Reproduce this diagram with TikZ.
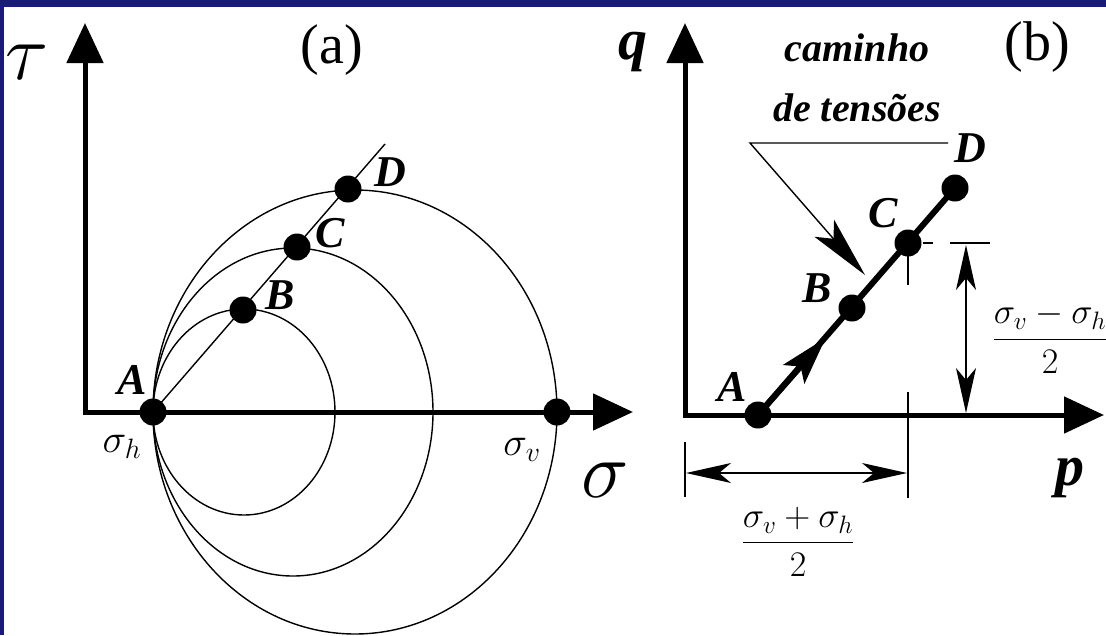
\RequirePackage{fix-cm}
\documentclass[tikz,border=0pt]{standalone}
\usepackage{amsmath}
\usepackage{fontspec}
\setmainfont{Liberation Serif}
\usepackage{tikz}
\usetikzlibrary{arrows.meta,calc}
\definecolor{frameblue}{RGB}{26,26,120}

\begin{document}
\begin{tikzpicture}[x=1pt, y=-1pt,
    axis/.style={line width=5pt, line join=miter, {Triangle[length=40pt,width=36pt]}-{Triangle[length=40pt,width=36pt]}},
    dot/.style={circle, fill=black, inner sep=0pt, minimum size=27pt},
    thinline/.style={line width=1.4pt},
    spath/.style={line width=6pt},
    dimline/.style={line width=1.6pt},
    dimarrow/.style={{Stealth[length=45pt,width=20pt,inset=12pt]}-{Stealth[length=45pt,width=20pt,inset=12pt]}},
    lab/.style={font=\fontsize{44}{44}\selectfont\rmfamily\bfseries\itshape, inner sep=0pt},
    axlab/.style={font=\fontsize{58}{58}\selectfont\rmfamily\bfseries\itshape, inner sep=0pt},
    greek/.style={font=\fontsize{80}{80}\selectfont, inner sep=0pt},
    sub/.style={font=\fontsize{40}{40}\selectfont, inner sep=0pt},
    frac/.style={font=\fontsize{36}{36}\selectfont, inner sep=0pt},
    panel/.style={font=\fontsize{56}{56}\selectfont\rmfamily, inner sep=0pt}]

    \useasboundingbox (0,0) rectangle (1106,635);

    % frame
    \fill[frameblue] (0,0) rectangle (1106,635);
    \fill[white] (4,7) rectangle (1106,635);

    % (a) Mohr circles
    \coordinate (oa) at (85,412);
    \coordinate (tauTop) at (85,23);
    \coordinate (sigEnd) at (633,412);
    \draw[axis] (tauTop) -- (oa) -- (sigEnd);

    \node[dot] (mA) at (153,412) {};
    \node[dot] (mB) at (243,310) {};
    \node[dot] (mC) at (297,247) {};
    \node[dot] (mD) at (348,189) {};
    \node[dot] (mV) at (557,412) {};

    \coordinate (mEnd) at (385,144);
    \draw[thinline] (mA.center) -- (mEnd);
    \draw[thinline] (244,412) ellipse [x radius=91pt, y radius=103pt];
    \draw[thinline] (293,412) ellipse [x radius=140pt, y radius=164pt];
    \draw[thinline] (355,412) ellipse [x radius=202pt, y radius=222pt];

    \node[lab] (labmA) at (132,380) {A};
    \node[lab] (labmB) at (280,295) {B};
    \node[lab] (labmC) at (330,233) {C};
    \node[lab] (labmD) at (390,172) {D};
    \node[sub] (sh) at (122,447) {$\sigma_h$};
    \node[sub] (sv) at (522,450) {$\sigma_v$};
    \node[greek] (tau) at (27,62) {$\tau$};
    \node[greek] (sig) at (605,480) {$\sigma$};
    \node[panel] (pa) at (332,50) {(a)};

    % (b) stress path
    \coordinate (ob) at (685,415);
    \coordinate (qTop) at (685,23);
    \coordinate (pEnd) at (1104,415);
    \draw[axis] (qTop) -- (ob) -- (pEnd);

    \node[dot] (sA) at (758,415) {};
    \node[dot] (sB) at (852,308) {};
    \node[dot] (sC) at (908,243) {};
    \node[dot] (sD) at (955,188) {};
    \draw[spath] (sA.center) -- (sD.center);
    \draw[spath, -{Stealth[length=48pt,width=28pt,inset=10pt]}] (sA.center) -- ($(sA)!0.72!(sB)$);

    \node[lab] (labsA) at (732,387) {A};
    \node[lab] (labsB) at (817,288) {B};
    \node[lab] (labsC) at (883,213) {C};
    \node[lab] (labsD) at (970,148) {D};
    \node[axlab] (qlab) at (633,52) {q};
    \node[axlab] (plab) at (1070,478) {p};
    \node[panel] (pb) at (1037,47) {(b)};

    % leader to the path
    \node[lab, font=\fontsize{40}{60}\selectfont\rmfamily\bfseries\itshape, align=center] (cam) at (857,78) {caminho\\de tensões};
    \coordinate (lk) at (750,143);
    \coordinate (lr) at (948,143);
    \coordinate (lt) at (865,275);
    \draw[thinline, -{Stealth[length=62pt,width=26pt,inset=14pt]}] (lr) -- (lk) -- (lt);

    % dimensions
    \draw[dimline] (908,253) -- (908,285) (908,392) -- (908,498);
    \draw[dimline] (923,243) -- (933,243) (950,243) -- (990,243);
    \draw[dimline] (685,442) -- (685,497);
    \coordinate (vt) at (966,245);
    \coordinate (vb) at (966,413);
    \draw[dimline, dimarrow] (vt) -- (vb);
    \coordinate (hl) at (686,473);
    \coordinate (hr) at (907,473);
    \draw[dimline, dimarrow] (hl) -- (hr);

    \node[frac] (fmin) at (1050,338) {$\dfrac{\sigma_v-\sigma_h}{2}$};
    \node[frac] (fplus) at (798,542) {$\dfrac{\sigma_v+\sigma_h}{2}$};
\end{tikzpicture}
\end{document}
